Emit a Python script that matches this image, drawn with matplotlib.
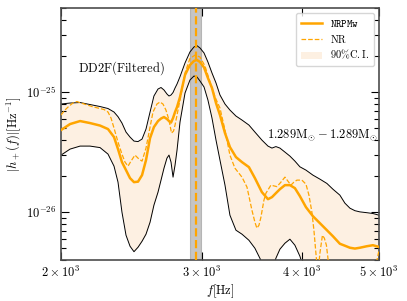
import matplotlib
matplotlib.use("Agg")
import matplotlib.pyplot as plt
import numpy as np

# computer modern look
plt.rcParams['font.family'] = 'serif'
plt.rcParams['font.serif'] = ['cmr10']
plt.rcParams['mathtext.fontset'] = 'cm'
plt.rcParams['axes.formatter.use_mathtext'] = True
plt.rcParams['axes.unicode_minus'] = False

# frequency grid of the 90% band [Hz]
freq = [2000, 2053, 2113, 2174, 2238, 2290, 2330, 2357, 2384, 2412,
        2440, 2468, 2497, 2526, 2555, 2585, 2614, 2645, 2668, 2691,
        2714, 2730, 2746, 2762, 2778, 2794, 2818, 2859, 2900, 2934,
        2959, 2985, 3020, 3054, 3090, 3126, 3162, 3208, 3254, 3311,
        3369, 3437, 3497, 3568, 3631, 3673, 3715, 3758, 3813, 3868,
        3924, 3981, 4051, 4133, 4217, 4303, 4378, 4467, 4532, 4598,
        4665, 4732, 4829, 4913, 5000]

# amplitudes in units of 1e-26 Hz^-1
upper = [7.943, 8.095, 8.173, 7.867, 7.571, 7.288, 6.813, 6.229, 5.517, 4.642,
         4.217, 3.905, 3.868, 4.058, 4.917, 6.813, 9.261, 10.59, 10.90, 10.39,
         9.624, 9.261, 9.441, 9.904, 10.80, 11.66, 13.41, 17.45, 21.54, 23.71,
         24.31, 23.26, 21.13, 17.78, 14.40, 11.89, 9.441, 7.943, 7.079, 6.310,
         5.843, 5.309, 4.642, 3.981, 3.548, 3.415, 3.514, 3.415, 3.162, 2.929,
         2.661, 2.385, 2.239, 2.034, 1.884, 1.734, 1.554, 1.386, 1.189, 1.080,
         1.029, 1.006, 0.990, 0.975, 0.944]

lower = [2.985, 3.350, 3.548, 3.548, 3.447, 3.043, 2.416, 1.778, 1.000, 0.643,
         0.521, 0.469, 0.511, 0.573, 0.656, 0.825, 1.144, 1.468, 1.848, 2.326,
         2.818, 2.985, 2.610, 1.957, 2.465, 3.286, 5.623, 9.810, 12.59, 13.59,
         13.34, 12.35, 11.01, 8.577, 6.072, 3.981, 2.712, 1.679, 0.944, 0.708,
         0.656, 0.584, 0.501, 0.383, 0.299, 0.329, 0.414, 0.492, 0.552, 0.596,
         0.531, 0.430, 0.299, 0.224, 0.187, 0.187, 0.187, 0.187, 0.187, 0.187,
         0.187, 0.187, 0.187, 0.187, 0.187]

nrpmw = [4.825, 5.412, 5.731, 5.517, 5.258, 4.917, 4.217, 3.350, 2.610, 2.239,
         1.920, 1.778, 1.795, 2.034, 2.712, 4.136, 5.109, 5.731, 6.016, 6.191,
         5.957, 5.731, 5.570, 6.072, 6.813, 7.499, 9.085, 13.86, 16.79, 18.13,
         18.48, 17.78, 16.00, 13.09, 10.80, 8.095, 6.433, 4.553, 3.481, 2.873,
         2.610, 2.371, 1.920, 1.468, 1.283, 1.334, 1.440, 1.554, 1.679, 1.679,
         1.585, 1.359, 1.101, 0.926, 0.810, 0.708, 0.631, 0.546, 0.526, 0.506,
         0.498, 0.506, 0.521, 0.531, 0.514]

# NR spectrum on its own grid
freq_nr = [2000, 2023, 2047, 2070, 2094, 2119, 2149, 2187, 2225, 2264,
           2290, 2310, 2330, 2357, 2384, 2405, 2426, 2447, 2475, 2504,
           2526, 2555, 2585, 2607, 2637, 2660, 2683, 2706, 2730, 2750,
           2766, 2778, 2802, 2826, 2859, 2900, 2942, 2985, 3028, 3072,
           3117, 3162, 3208, 3254, 3301, 3369, 3418, 3467, 3497, 3517,
           3538, 3558, 3589, 3610, 3662, 3726, 3769, 3813, 3846, 3879,
           3913, 3947, 4004, 4051, 4086, 4121, 4145, 4169, 4193, 4217,
           4248, 4272, 4297, 4322, 4353, 4467, 4871, 4941, 5000]
nr = [6.433, 7.079, 7.643, 8.095, 8.332, 8.095, 7.867, 7.571, 7.356, 7.148,
      6.813, 6.072, 5.012, 3.831, 3.043, 2.610, 2.416, 2.661, 2.985, 2.765,
      2.661, 3.415, 5.109, 6.813, 7.943, 8.254, 7.943, 7.079, 5.843, 4.553,
      4.732, 5.309, 7.079, 9.441, 14.40, 19.02, 20.26, 19.57, 16.48, 12.18,
      9.085, 7.356, 4.825, 2.985, 2.326, 1.957, 1.616, 1.039, 0.825, 0.736,
      0.779, 0.908, 1.259, 1.440, 1.679, 1.631, 1.778, 1.957, 1.812, 1.679,
      1.778, 1.848, 1.848, 1.711, 1.386, 1.000, 0.708, 0.455, 0.299, 0.455,
      0.643, 0.607, 0.531, 0.383, 0.224, 0.126, 0.126, 0.329, 0.482]

# NR peak frequency and its band
f2_lo, f2, f2_hi = 2900, 2948, 2994

unit = 1e-26
freq = np.array(freq)
upper = np.array(upper) * unit
lower = np.array(lower) * unit
nrpmw = np.array(nrpmw) * unit
freq_nr = np.array(freq_nr)
nr = np.array(nr) * unit

fig = plt.figure(figsize=(4.07, 3.01), dpi=100)
ax = fig.add_axes([0.1499, 0.1362, 0.7813, 0.8372])

ax.fill_between(freq, lower, upper, color='#fdf0e2', lw=0,
                label=r'$\mathrm{90\%C.I.}$', zorder=1)
ax.axvspan(f2_lo, f2_hi, color='gray', alpha=0.45, lw=0.8, zorder=1.5)
ax.plot(freq, upper, color='k', lw=0.7, zorder=2)
ax.plot(freq, lower, color='k', lw=0.7, zorder=2)
ax.plot(freq, nrpmw, color='orange', lw=1.8, label=r'$\mathtt{NRPMw}$', zorder=3)
ax.plot(freq_nr, nr, color='orange', lw=0.9, ls='--', label=r'$\mathrm{NR}$', zorder=3)
ax.axvline(f2, color='orange', lw=1.6, ls='--', zorder=3)

ax.set_xscale('log')
ax.set_yscale('log')
ax.set_xlim(2000, 5000)
ax.set_ylim(4.0e-27, 5.0e-25)

xt = [2000, 3000, 4000, 5000]
ax.set_xticks(xt)
ax.set_xticklabels([r'$2\times10^3$', r'$3\times10^3$', r'$4\times10^3$', r'$5\times10^3$'])
ax.xaxis.set_minor_locator(matplotlib.ticker.NullLocator())

ax.tick_params(which='both', direction='in', top=True, right=True, labelsize=9)
ax.tick_params(which='major', length=6, width=0.8)
ax.tick_params(which='minor', length=3.5, width=0.8)
for s in ax.spines.values():
    s.set_linewidth(1.2)
    s.set_color('0.3')

ax.set_xlabel(r'$f[\mathrm{Hz}]$', fontsize=9, labelpad=2)
ax.set_ylabel(r'$|h_+(f)|[\mathrm{Hz}^{-1}]$', fontsize=9, labelpad=2)

ax.text(0.053, 0.762, r'$\mathrm{DD2F(Filtered)}$', transform=ax.transAxes,
        fontsize=9, ha='left', va='center')
ax.text(0.997, 0.496, r'$1.289\mathrm{M}_{\odot}-1.289\mathrm{M}_{\odot}$',
        transform=ax.transAxes, fontsize=9, ha='right', va='center')

h, l = ax.get_legend_handles_labels()
order = [1, 2, 0]
ax.legend([h[i] for i in order], [l[i] for i in order], loc='upper right',
          fontsize=7.5, labelspacing=0.35, borderpad=0.45)

fig.savefig('out.png', dpi=100)
